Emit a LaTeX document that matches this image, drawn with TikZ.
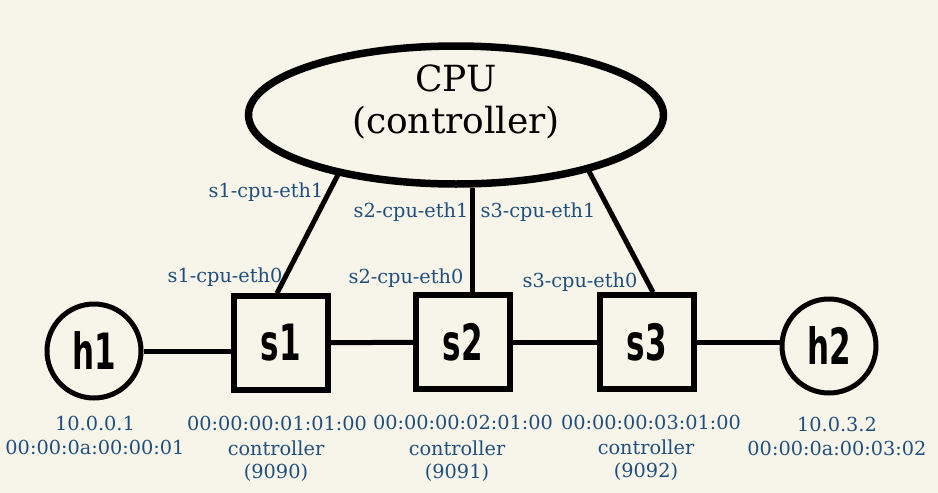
\documentclass[tikz,border=0pt]{standalone}
\usepackage{fontspec}
\usepackage{graphicx}
\setmainfont{DejaVu Serif}
\newfontfamily\labfont{DejaVu Serif}
\newfontfamily\handfont{DejaVu Sans}
\usetikzlibrary{shapes.geometric,calc}
\definecolor{bgcol}{RGB}{247,245,233}
\definecolor{labblue}{RGB}{32,78,125}
\newcommand{\hw}[1]{{\handfont\bfseries\fontsize{50}{50}\selectfont\scalebox{0.62}[1]{#1}}}
\begin{document}
\begin{tikzpicture}[x=1pt,y=-1pt,
  hostnode/.style={circle,draw,line width=5pt,minimum size=94pt,inner sep=0pt},
  switchnode/.style={rectangle,draw,line width=5.5pt,minimum size=94pt,inner sep=0pt},
  cpunode/.style={ellipse,draw,line width=7.5pt,minimum width=415pt,minimum height=138pt,inner sep=0pt},
  cputext/.style={font=\fontsize{36}{42}\selectfont,align=center,inner sep=0pt},
  link/.style={line width=5pt},
  lab/.style={text=labblue,font=\labfont\fontsize{19.3}{24}\selectfont,inner sep=0pt,align=center},
  ctrl/.style={text=labblue,font=\labfont\fontsize{19.3}{22.5}\selectfont,inner sep=0pt,align=center}]
\path[fill=bgcol] (0,0) rectangle (938,493);
% nodes
\node[cpunode] (cpu) at (456,115) {};
\node[cputext] (cpulabel) at (456,102) {CPU\\(controller)};
\node[hostnode] (h1) at (94,351) {\hw{h1}};
\node[hostnode] (h2) at (829,346) {\hw{h2}};
\node[switchnode] (s1) at (281,343) {\hw{s1}};
\node[switchnode] (s2) at (463,342) {\hw{s2}};
\node[switchnode] (s3) at (647,342) {\hw{s3}};
% links
\draw[link] (h1) -- (h1 -| s1.west);
\draw[link] (s1) -- (s2);
\draw[link] (s2) -- (s3);
\draw[link] (s3) -- (s3 -| h2.west);
\draw[link] (cpu.207) -- ([xshift=-4pt]s1.north);
\draw[link] ([xshift=9pt]s2.north) -- ([xshift=9pt]s2.north |- cpu.south);
\draw[link] (cpu.-23) -- ([xshift=6pt]s3.north);
% port labels
\node[lab] (p11) at (266,192) {s1-cpu-eth1};
\node[lab] (p10) at (225,277) {s1-cpu-eth0};
\node[lab] (p21) at (411,212) {s2-cpu-eth1};
\node[lab] (p20) at (406,278) {s2-cpu-eth0};
\node[lab] (p31) at (538,212) {s3-cpu-eth1};
\node[lab] (p30) at (580,282) {s3-cpu-eth0};
% host labels
\node[lab] (h1info) at (95,435) {10.0.0.1\\00:00:0a:00:00:01};
\node[lab] (h2info) at (837,436) {10.0.3.2\\00:00:0a:00:03:02};
% switch labels
\node[lab] (s1mac) at (277,423) {00:00:00:01:01:00};
\node[lab] (s2mac) at (463,422) {00:00:00:02:01:00};
\node[lab] (s3mac) at (651,422) {00:00:00:03:01:00};
\node[ctrl] (s1ctrl) at (276,461) {controller\\(9090)};
\node[ctrl] (s2ctrl) at (457,461) {controller\\(9091)};
\node[ctrl] (s3ctrl) at (646,460) {controller\\(9092)};
\end{tikzpicture}
\end{document}
